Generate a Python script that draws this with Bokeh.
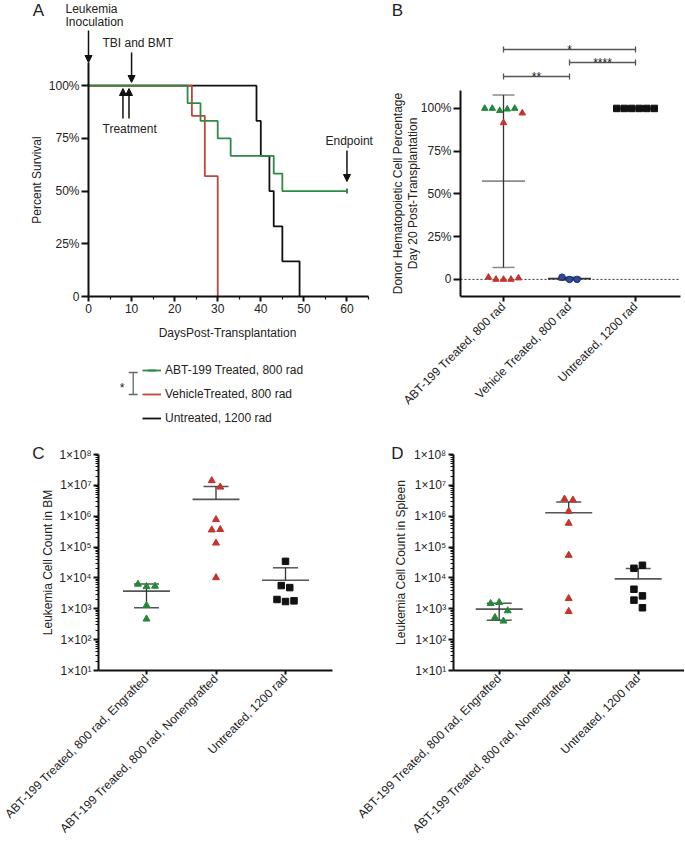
import math
import numpy as np
from bokeh.plotting import figure
from bokeh.layouts import column, row
from bokeh.models import (Range1d, FixedTicker, CustomJSTickFormatter, Label,
                          Arrow, NormalHead, TeeHead, Legend, LegendItem)
from bokeh.embed import file_html
from bokeh.resources import INLINE

# ---------------- Panel A: survival ----------------
abt_days = [0, 23, 26, 30, 33, 43, 45, 60]
abt_surv = [100, 91.7, 83.3, 75.0, 66.7, 58.3, 50.0, 50.0]
veh_days = [0, 24, 27, 30]
veh_surv = [100, 85.7, 57.1, 0]
unt_days = [0, 39, 40, 42, 43, 45, 49]
unt_surv = [100, 83.3, 66.7, 50.0, 33.3, 16.7, 0]
abt_censor_day = [60]
abt_censor_surv = [50.0]
surv_labels = ["ABT-199 Treated, 800 rad", "VehicleTreated, 800 rad", "Untreated, 1200 rad"]
inoculation_day = 0
tbi_day = 10
treatment_days = [8, 9.4]
endpoint_day = 60

# ---------------- Panel B: donor chimerism ----------------
b_categories = ["ABT-199 Treated, 800 rad", "Vehicle Treated, 800 rad", "Untreated, 1200 rad"]
b_abt = [100, 100, 98.7, 99.6, 100, 97.3, 91.6, 1.2, 0, 0, 0, 0.8]
b_abt_engrafted = [1, 1, 1, 1, 1, 0, 0, 0, 0, 0, 0, 0]
b_veh = [1.3, 0.0, 0.0]
b_unt = [100, 100, 100, 100, 100, 100]
b_sig = [(1, 3, "*"), (2, 3, "****"), (1, 2, "**")]

# ---------------- Panels C / D: leukemia counts ----------------
cd_categories = ["ABT-199 Treated, 800 rad, Engrafted",
                 "ABT-199 Treated, 800 rad, Nonengrafted",
                 "Untreated, 1200 rad"]
c_eng = [6270, 5240, 5400, 1280, 466]
c_noneng = [1.42e7, 8.8e6, 7.8e5, 3.6e5, 3.7e5, 1.35e5, 1.02e4]
c_unt = [3.45e4, 5650, 4860, 2000, 1720, 1810]
d_eng = [1480, 1600, 860, 524, 400]
d_noneng = [3.6e6, 3.36e6, 1.45e6, 5.9e5, 5.4e4, 2150, 820]
d_unt = [20500, 25700, 4300, 2620, 1910, 1080]

FONT = "Liberation Sans"
TXT = "#222222"
GREEN = "#23883a"
RED = "#c2352c"
BLUE = "#2f4a9e"
BLACK = "#111111"
LGREEN = "#2e8b45"
LRED = "#c0453a"


def make_fig(w, h, xr, yr, y_type="linear"):
    p = figure(width=w, height=h, x_range=Range1d(*xr), y_range=Range1d(*yr),
               y_axis_type=y_type, output_backend="svg", toolbar_location=None,
               min_border=0, min_border_left=0, min_border_right=0,
               min_border_top=0, min_border_bottom=0)
    p.outline_line_color = None
    p.xgrid.visible = False
    p.ygrid.visible = False
    for a in p.axis:
        a.axis_line_width = 2
        a.axis_line_color = BLACK
        a.major_tick_line_width = 2
        a.major_tick_line_color = BLACK
        a.minor_tick_line_width = 1.2
        a.minor_tick_line_color = BLACK
        a.major_tick_in = 0
        a.minor_tick_in = 0
        a.major_label_text_font = FONT
        a.major_label_text_font_size = "12px"
        a.major_label_text_color = TXT
    return p


def lab(p, x, y, text, size="12px", align="left", baseline="middle", angle=0.0):
    p.add_layout(Label(x=x, y=y, text=text, text_font=FONT, text_font_size=size,
                       text_color=TXT, text_align=align, text_baseline=baseline,
                       angle=angle))


def arrow(p, xs, ys, xe, ye):
    p.add_layout(Arrow(x_start=xs, y_start=ys, x_end=xe, y_end=ye, line_width=1.5,
                       line_color=BLACK,
                       end=NormalHead(size=7, fill_color=BLACK, line_color=BLACK,
                                      line_width=1)))


def bracket(p, xs, ys, xe, ye, color="#555555", size=6):
    p.add_layout(Arrow(x_start=xs, y_start=ys, x_end=xe, y_end=ye, line_width=1.3,
                       line_color=color,
                       start=TeeHead(size=size, line_color=color, line_width=1.3),
                       end=TeeHead(size=size, line_color=color, line_width=1.3)))


def swarm_offsets(vals_px, d):
    order = sorted(range(len(vals_px)), key=lambda i: vals_px[i])
    rows = []
    for i in order:
        if rows and abs(vals_px[i] - vals_px[rows[-1][0]]) < d:
            rows[-1].append(i)
        else:
            rows.append([i])
    off = [0.0] * len(vals_px)
    for r in rows:
        r = sorted(r)
        n = len(r)
        for j, i in enumerate(r):
            off[i] = (j - (n - 1) / 2) * d
    return off


def mean_sd(p, c, vals, mw, cw, floor, mean_color, bar_color):
    m = float(np.mean(vals))
    s = float(np.std(vals, ddof=1))
    hi, lo = m + s, m - s
    p.segment(x0=[c - mw], y0=[m], x1=[c + mw], y1=[m], line_color=mean_color, line_width=1.7)
    p.segment(x0=[c - cw], y0=[hi], x1=[c + cw], y1=[hi], line_color=mean_color, line_width=1.5)
    vlo = m
    if lo > floor:
        p.segment(x0=[c - cw], y0=[lo], x1=[c + cw], y1=[lo], line_color=mean_color, line_width=1.5)
        vlo = lo
    p.segment(x0=[c], y0=[vlo], x1=[c], y1=[hi], line_color=bar_color, line_width=1.3)


pct_fmt = CustomJSTickFormatter(code="return tick == 0 ? '0' : tick + '%';")
sci_fmt = CustomJSTickFormatter(code="""
const sup = {'0':'\u2070','1':'\u00b9','2':'\u00b2','3':'\u00b3','4':'\u2074','5':'\u2075','6':'\u2076','7':'\u2077','8':'\u2078','9':'\u2079','-':'\u207b'};
const e = Math.round(Math.log10(tick));
return '1\u00d710' + String(e).split('').map(c => sup[c]).join('');
""")

# ======================= Panel A =======================
# canvas occupies page pixels x 0..375, y 0..436
A_OX, A_OY, A_W, A_H = 0, 0, 375, 436
A_KX = 280 / 65.0      # px per day
A_KY = 234 / 111.0     # px per percent
ax_ = lambda xi: (xi - 88) / A_KX
ay_ = lambda yi: (296 - yi) / A_KY
pA = make_fig(A_W, A_H, (ax_(A_OX), ax_(A_OX + A_W)), (ay_(A_OY + A_H), ay_(A_OY)))

pA.xaxis.fixed_location = 0
pA.xaxis.bounds = (0, 65)
pA.xaxis.ticker = FixedTicker(ticks=list(range(0, 61, 10)), minor_ticks=list(range(5, 66, 10)))
pA.xaxis.major_tick_out = 5
pA.xaxis.minor_tick_out = 3
pA.xaxis.major_label_standoff = 2
pA.yaxis.fixed_location = 0
pA.yaxis.bounds = (0, 111)
pA.yaxis.ticker = FixedTicker(ticks=[0, 25, 50, 75, 100], minor_ticks=[])
pA.yaxis.formatter = pct_fmt
pA.yaxis.major_tick_out = 7
pA.yaxis.major_label_standoff = 2

r_unt = pA.step(unt_days, unt_surv, mode="after", line_color=BLACK, line_width=1.8)
r_veh = pA.step(veh_days, veh_surv, mode="after", line_color=LRED, line_width=1.8)
r_abt = pA.step(abt_days, abt_surv, mode="after", line_color=LGREEN, line_width=1.8)
cen_abt = pA.scatter(abt_censor_day, abt_censor_surv, marker="dash", angle=math.pi / 2,
                     size=5, line_color=LGREEN, line_width=2)
cen_veh = pA.scatter(x=[], y=[], marker="dash", angle=math.pi / 2, size=5,
                     line_color=LRED, line_width=2)
cen_unt = pA.scatter(x=[], y=[], marker="dash", angle=math.pi / 2, size=5,
                     line_color=BLACK, line_width=2)

legend = Legend(items=[LegendItem(label=surv_labels[0], renderers=[r_abt, cen_abt]),
                       LegendItem(label=surv_labels[1], renderers=[r_veh, cen_veh]),
                       LegendItem(label=surv_labels[2], renderers=[r_unt, cen_unt])],
                location=(142 - A_OX, (A_OY + A_H) - 428), orientation="vertical",
                margin=0, padding=0, spacing=4, label_height=20, glyph_height=20,
                glyph_width=19, label_standoff=4, label_text_font=FONT,
                label_text_font_size="12px", label_text_color=TXT,
                border_line_color=None, background_fill_alpha=0)
pA.add_layout(legend)

lab(pA, ax_(38), ay_(10), "A", size="17px", align="center")
lab(pA, ax_(65), ay_(8), "Leukemia")
lab(pA, ax_(65), ay_(21), "Inoculation")
arrow(pA, inoculation_day, ay_(30), inoculation_day, ay_(62))
lab(pA, ax_(102), ay_(42), "TBI and BMT")
arrow(pA, tbi_day, ay_(52), tbi_day, ay_(82))
for d in treatment_days:
    arrow(pA, d, ay_(118), d, ay_(88))
lab(pA, ax_(102), ay_(128), "Treatment")
lab(pA, ax_(348.7), ay_(140), "Endpoint", align="center")
arrow(pA, endpoint_day, ay_(150), endpoint_day, ay_(181))
lab(pA, ax_(36), ay_(179.5), "Percent Survival", align="center", angle=math.pi / 2)
lab(pA, ax_(227), ay_(332), "DaysPost-Transplantation", align="center")
bracket(pA, ax_(132.7), ay_(372), ax_(132.7), ay_(394), color="#666666", size=9)
lab(pA, ax_(121.7), ay_(387), "*", align="center")

# ======================= Panel B =======================
B_OX, B_OY, B_W, B_H = 375, 0, 309, 436
B_KX = 66.0
B_KY = 206 / 120.5
bx_ = lambda xi: 1 + (xi - 503) / B_KX
by_ = lambda yi: -10 + (296 - yi) / B_KY
pB = make_fig(B_W, B_H, (bx_(B_OX), bx_(B_OX + B_W)), (by_(B_OY + B_H), by_(B_OY)))
b_x0 = bx_(460)
b_x1 = bx_(680)
pB.xaxis.fixed_location = -10
pB.xaxis.bounds = (b_x0, b_x1)
pB.xaxis.ticker = FixedTicker(ticks=[1, 2, 3], minor_ticks=[])
pB.xaxis.formatter = CustomJSTickFormatter(args=dict(names=b_categories),
                                           code="return names[Math.round(tick) - 1];")
pB.xaxis.major_label_orientation = math.pi / 4
pB.xaxis.major_tick_out = 5
pB.xaxis.major_label_standoff = 3
pB.yaxis.fixed_location = b_x0
pB.yaxis.bounds = (-10, 110.5)
pB.yaxis.ticker = FixedTicker(ticks=[0, 25, 50, 75, 100], minor_ticks=[])
pB.yaxis.formatter = pct_fmt
pB.yaxis.major_tick_out = 7
pB.yaxis.major_label_standoff = 2
pB.segment(x0=[b_x0], y0=[0], x1=[b_x1], y1=[0], line_dash="2 2",
           line_color="#333333", line_width=1)

mean_sd(pB, 1, b_abt, 21.5 / B_KX, 11 / B_KX, -1e9, "#8a8a8a", "#333333")
mean_sd(pB, 2, b_veh, 21.5 / B_KX, 11 / B_KX, -1e9, "#333333", "#333333")
mean_sd(pB, 3, b_unt, 21.5 / B_KX, 11 / B_KX, -1e9, "#333333", "#333333")

off = swarm_offsets([v * B_KY for v in b_abt], 7.5)
cols = [GREEN if e else RED for e in b_abt_engrafted]
pB.scatter([1 + o / B_KX for o in off], b_abt, marker="triangle", size=6.5,
           fill_color=cols, line_color=cols)
off = swarm_offsets([v * B_KY for v in b_veh], 7.5)
pB.scatter([2 + o / B_KX for o in off], b_veh, marker="circle", size=6.5,
           fill_color=BLUE, line_color="#1d2f70", line_width=1)
off = swarm_offsets([v * B_KY for v in b_unt], 7.5)
pB.scatter([3 + o / B_KX for o in off], b_unt, marker="square", size=6.5,
           fill_color=BLACK, line_color=BLACK)

lab(pB, bx_(397), by_(10), "B", size="17px", align="center")
lab(pB, bx_(397), by_(193), "Donor Hematopoietic Cell Percentage", align="center",
    angle=math.pi / 2)
lab(pB, bx_(412), by_(193), "Day 20 Post-Transplantation", align="center",
    angle=math.pi / 2)
for (g1, g2, txt), level in zip(b_sig, [49, 62, 76]):
    bracket(pB, g1, by_(level), g2, by_(level))
    lab(pB, (g1 + g2) / 2, by_(level), txt, align="center", baseline="alphabetic")

# ======================= Panels C & D =======================
CD_OY, CD_H = 436, 404
CD_TOP, CD_BOT = 454, 670          # page y of 1e8 and 1e1
CD_KD = (CD_BOT - CD_TOP) / 7.0    # px per decade
CD_KX = 69.5


def count_panel(ox, width, cat1_x, axis_x, axis_end, ylabel, ylabel_x, groups, letter, letter_x):
    fx = lambda xi: 1 + (xi - cat1_x) / CD_KX
    fy = lambda yi: 10 ** (8 + (CD_TOP - yi) / CD_KD)
    p = make_fig(width, CD_H, (fx(ox), fx(ox + width)), (fy(CD_OY + CD_H), fy(CD_OY)),
                 y_type="log")
    x0 = fx(axis_x)
    x1 = fx(axis_end)
    p.xaxis.fixed_location = 10
    p.xaxis.bounds = (x0, x1)
    p.xaxis.ticker = FixedTicker(ticks=[1, 2, 3], minor_ticks=[])
    p.xaxis.formatter = CustomJSTickFormatter(args=dict(names=cd_categories),
                                              code="return names[Math.round(tick) - 1];")
    p.xaxis.major_label_orientation = math.pi / 4
    p.xaxis.major_tick_out = 4
    p.xaxis.major_label_standoff = 2
    p.yaxis.fixed_location = x0
    p.yaxis.bounds = (10, 1e8)
    p.yaxis.ticker = FixedTicker(ticks=[10 ** k for k in range(1, 9)],
                                 minor_ticks=[m * 10 ** k for k in range(1, 8) for m in range(2, 10)])
    p.yaxis.formatter = sci_fmt
    p.yaxis.major_tick_out = 5
    p.yaxis.minor_tick_out = 3
    p.yaxis.major_label_standoff = 2
    specs = [("triangle", GREEN), ("triangle", RED), ("square", BLACK)]
    for gi, (vals, (mk, col)) in enumerate(zip(groups, specs)):
        c = gi + 1
        mean_sd(p, c, vals, 23.5 / CD_KX, 12.5 / CD_KX, 10, "#555555", "#333333")
        off = swarm_offsets([math.log10(v) * CD_KD for v in vals], 8.5)
        p.scatter([c + o / CD_KX for o in off], vals, marker=mk,
                  size=7 if mk == "triangle" else 6.5, fill_color=col, line_color=col)
    lab(p, fx(letter_x), fy(453), letter, size="17px", align="center")
    lab(p, fx(ylabel_x), fy((CD_TOP + CD_BOT) / 2), ylabel, align="center",
        angle=math.pi / 2)
    return p


pC = count_panel(0, 345, 146, 98, 332, "Leukemia Cell Count in BM", 47.5,
                 [c_eng, c_noneng, c_unt], "C", 38)
pD = count_panel(345, 339, 498.7, 452.7, 684, "Leukemia Cell Count in Spleen", 400,
                 [d_eng, d_noneng, d_unt], "D", 397)

layout = column(row(pA, pB), row(pC, pD))
open("out.html", "w").write(file_html(layout, INLINE))
